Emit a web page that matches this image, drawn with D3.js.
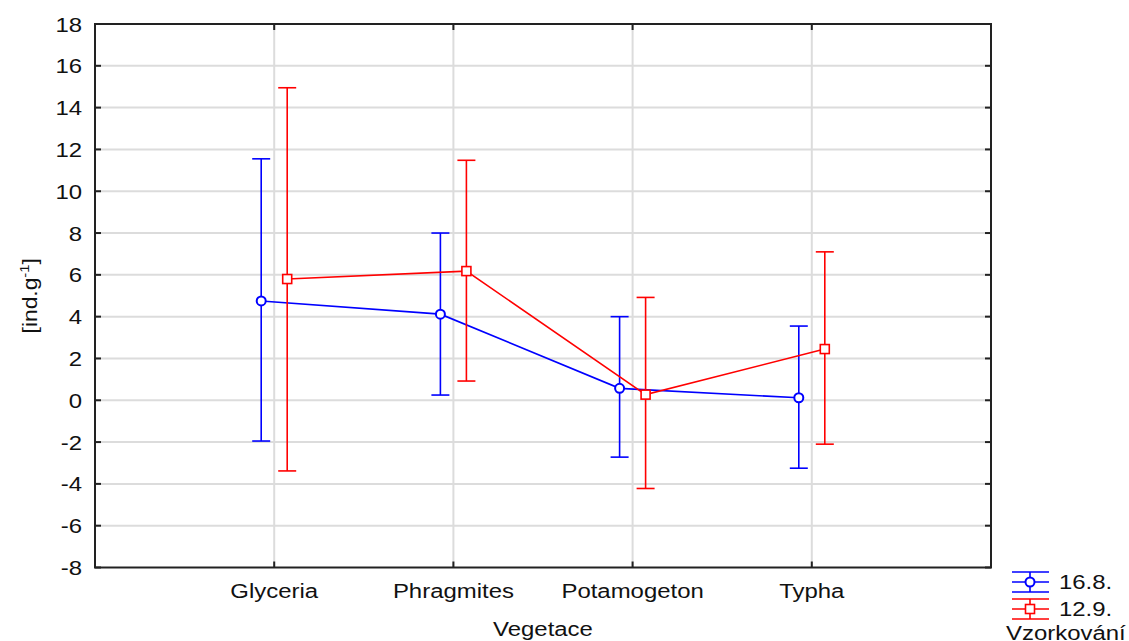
<!DOCTYPE html>
<html>
<head>
<meta charset="utf-8">
<script src="https://cdn.jsdelivr.net/npm/d3@7"></script>
<style>
  body { margin: 0; background: #fff; }
  svg text { font-family: "Liberation Sans", Arial, sans-serif; fill: #111; }
</style>
</head>
<body>
<svg id="chart" width="1129" height="641"></svg>
<script>
// data
const categories = ["Glyceria", "Phragmites", "Potamogeton", "Typha"]
const seriesNames = ["16.8.", "12.9."]
const mean168 = [4.75, 4.12, 0.57, 0.12]
const upper168 = [11.55, 8.0, 4.0, 3.55]
const lower168 = [-1.95, 0.25, -2.72, -3.25]
const mean129 = [5.8, 6.18, 0.27, 2.45]
const upper129 = [14.95, 11.48, 4.92, 7.1]
const lower129 = [-3.38, 0.92, -4.22, -2.1]
const yTicks = [-8, -6, -4, -2, 0, 2, 4, 6, 8, 10, 12, 14, 16, 18]

const colours = ["#0000ff", "#ff0000"]
const sx = 1.14 // the reference text is a bit wide

const plotL = 95, plotR = 991, plotT = 24, plotB = 567.5
const svg = d3.select("#chart")

const x = d3.scalePoint().domain(categories).range([plotL, plotR]).padding(1)
const y = d3.scaleLinear().domain([-8, 18]).range([plotB, plotT])

function stretchedText(g, tx, ty, txt, anchor, size){
    return g.append("text")
        .attr("transform", "translate(" + tx + "," + ty + ") scale(" + sx + ",1)")
        .attr("text-anchor", anchor)
        .attr("font-size", size)
        .text(txt)
}

// grid
svg.append("g").selectAll("line")
    .data(yTicks.slice(1, -1))
    .join("line")
    .attr("x1", plotL).attr("x2", plotR)
    .attr("y1", d => y(d)).attr("y2", d => y(d))
    .attr("stroke", "#dcdcdc").attr("stroke-width", 2)
svg.append("g").selectAll("line")
    .data(categories)
    .join("line")
    .attr("x1", d => x(d)).attr("x2", d => x(d))
    .attr("y1", plotT).attr("y2", plotB)
    .attr("stroke", "#dcdcdc").attr("stroke-width", 2)

// frame + inward ticks on all four sides
svg.append("rect")
    .attr("x", plotL).attr("y", plotT)
    .attr("width", plotR - plotL).attr("height", plotB - plotT)
    .attr("fill", "none").attr("stroke", "#222").attr("stroke-width", 2)

const yAxis = svg.append("g")
;[[plotL, 6], [plotR, -6]].forEach(([ax, len]) => {
    yAxis.append("g").selectAll("line")
        .data(yTicks)
        .join("line")
        .attr("x1", ax).attr("x2", ax + len)
        .attr("y1", d => y(d)).attr("y2", d => y(d))
        .attr("stroke", "#222").attr("stroke-width", 2)
})
yTicks.forEach(t => {
    stretchedText(yAxis, 82, y(t) + 7.5, t, "end", 21)
})

const xAxis = svg.append("g")
;[[plotB, -6], [plotT, 6]].forEach(([ay, len]) => {
    xAxis.append("g").selectAll("line")
        .data(categories)
        .join("line")
        .attr("x1", d => x(d)).attr("x2", d => x(d))
        .attr("y1", ay).attr("y2", ay + len)
        .attr("stroke", "#222").attr("stroke-width", 2)
})
categories.forEach(c => {
    stretchedText(xAxis, x(c), 598, c, "middle", 21)
})

stretchedText(svg, (plotL + plotR) / 2, 636, "Vegetace", "middle", 21)

// y label with superscript
const yl = svg.append("text")
    .attr("transform", "translate(37," + y(5) + ") rotate(-90) scale(" + sx + ",1)")
    .attr("text-anchor", "middle")
    .attr("font-size", 20)
yl.append("tspan").text("[ind.g")
yl.append("tspan").attr("font-size", 13).attr("dy", -8).text("-1")
yl.append("tspan").attr("dy", 8).text("]")

// series
const series = [
    {name: seriesNames[0], mean: mean168, hi: upper168, lo: lower168, off: -13, shape: "circle"},
    {name: seriesNames[1], mean: mean129, hi: upper129, lo: lower129, off: 13, shape: "square"}
]
const cap = 9

series.forEach((s, si) => {
    const g = svg.append("g")
    const col = colours[si]
    const px = i => x(categories[i]) + s.off

    g.append("path")
        .datum(s.mean)
        .attr("d", d3.line().x((d, i) => px(i)).y(d => y(d)))
        .attr("fill", "none").attr("stroke", col).attr("stroke-width", 1.6)

    categories.forEach((c, i) => {
        g.append("line")
            .attr("x1", px(i)).attr("x2", px(i))
            .attr("y1", y(s.hi[i])).attr("y2", y(s.lo[i]))
            .attr("stroke", col).attr("stroke-width", 1.6)
        ;[s.hi[i], s.lo[i]].forEach(v => {
            g.append("line")
                .attr("x1", px(i) - cap).attr("x2", px(i) + cap)
                .attr("y1", y(v)).attr("y2", y(v))
                .attr("stroke", col).attr("stroke-width", 1.6)
        })
        if(s.shape == "circle"){
            g.append("circle")
                .attr("cx", px(i)).attr("cy", y(s.mean[i])).attr("r", 4.5)
                .attr("fill", "#fff").attr("stroke", col).attr("stroke-width", 2)
        } else {
            g.append("rect")
                .attr("x", px(i) - 4.5).attr("y", y(s.mean[i]) - 4.5)
                .attr("width", 9).attr("height", 9)
                .attr("fill", "#fff").attr("stroke", col).attr("stroke-width", 1.6)
        }
    })
})

// legend
const lg = svg.append("g")
const legY = [582, 609]
series.forEach((s, si) => {
    const col = colours[si]
    const cy = legY[si]
    const cx = 1030
    ;[-10, 0, 10].forEach(dy => {
        lg.append("line")
            .attr("x1", 1012).attr("x2", 1049)
            .attr("y1", cy + dy).attr("y2", cy + dy)
            .attr("stroke", col).attr("stroke-width", 1.6)
    })
    lg.append("line")
        .attr("x1", cx).attr("x2", cx)
        .attr("y1", cy - 10).attr("y2", cy + 10)
        .attr("stroke", col).attr("stroke-width", 1.6)
    if(s.shape == "circle"){
        lg.append("circle").attr("cx", cx).attr("cy", cy).attr("r", 4.5)
            .attr("fill", "#fff").attr("stroke", col).attr("stroke-width", 2)
    } else {
        lg.append("rect").attr("x", cx - 4.5).attr("y", cy - 4.5)
            .attr("width", 9).attr("height", 9)
            .attr("fill", "#fff").attr("stroke", col).attr("stroke-width", 1.6)
    }
    stretchedText(lg, 1059, cy + 7, s.name, "start", 21)
})
// the reference crops this title at the bottom edge too
stretchedText(lg, 1006, 640, "Vzorkování", "start", 21)
</script>
</body>
</html>
